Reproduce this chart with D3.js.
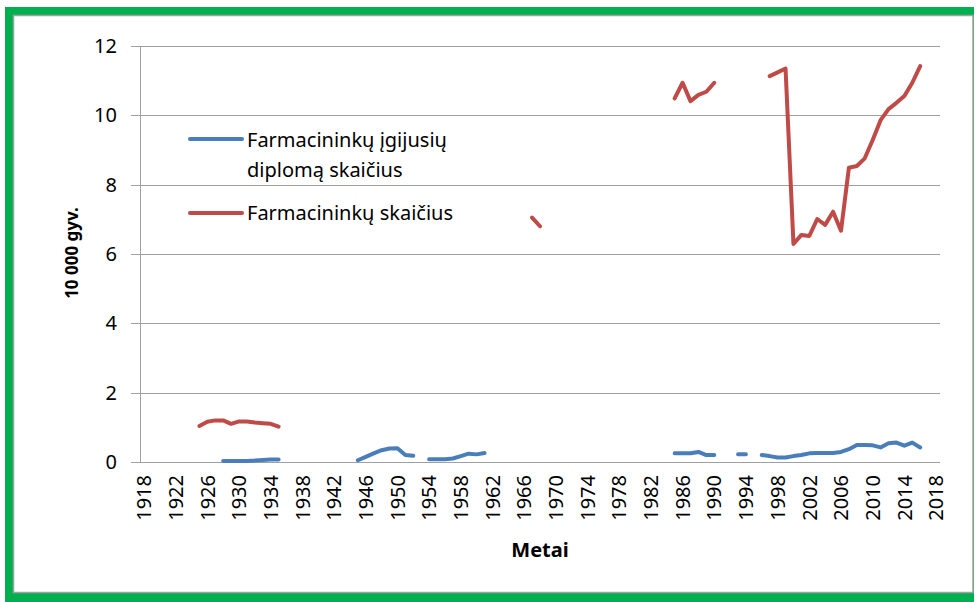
<!DOCTYPE html>
<html>
<head>
<meta charset="utf-8">
<script src="https://cdn.jsdelivr.net/npm/d3@7"></script>
<style>
html,body{margin:0;padding:0;background:#fff;}
svg{display:block;}
text{font-family:"Noto Sans","Open Sans",sans-serif;fill:#000;}
</style>
</head>
<body>
<svg id="chart" width="976" height="602"></svg>
<script>
// categories (every year on the axis)
const years = [1918,1919,1920,1921,1922,1923,1924,1925,1926,1927,1928,1929,1930,1931,1932,1933,1934,1935,1936,1937,1938,1939,1940,1941,1942,1943,1944,1945,1946,1947,1948,1949,1950,1951,1952,1953,1954,1955,1956,1957,1958,1959,1960,1961,1962,1963,1964,1965,1966,1967,1968,1969,1970,1971,1972,1973,1974,1975,1976,1977,1978,1979,1980,1981,1982,1983,1984,1985,1986,1987,1988,1989,1990,1991,1992,1993,1994,1995,1996,1997,1998,1999,2000,2001,2002,2003,2004,2005,2006,2007,2008,2009,2010,2011,2012,2013,2014,2015,2016,2017,2018];
const xTickLabels = [1918,1922,1926,1930,1934,1938,1942,1946,1950,1954,1958,1962,1966,1970,1974,1978,1982,1986,1990,1994,1998,2002,2006,2010,2014,2018];
const yTickLabels = [0,2,4,6,8,10,12];

// Farmacininkų įgijusių diplomą skaičius (null = gap)
const graduatesYears  = [1928,1929,1930,1931,1932,1933,1934,1935,1936,
  1945,1946,1947,1948,1949,1950,1951,1952,1953,
  1954,1955,1956,1957,1958,1959,1960,1961,1962,
  1985,1986,1987,1988,1989,1990,1991,
  1993,1994,1995,
  1996,1997,1998,1999,2000,2001,2002,2003,2004,2005,2006,2007,2008,2009,2010,2011,2012,2013,2014,2015,2016];
const graduatesValues = [0.03,0.03,0.03,0.03,0.04,0.06,0.07,0.07,null,
  0.05,0.15,0.25,0.34,0.39,0.40,0.20,0.18,null,
  0.08,0.08,0.08,0.10,0.17,0.24,0.22,0.26,null,
  0.25,0.25,0.25,0.29,0.20,0.20,null,
  0.22,0.22,null,
  0.20,0.17,0.13,0.13,0.17,0.20,0.25,0.26,0.26,0.26,0.29,0.37,0.49,0.49,0.48,0.42,0.54,0.56,0.47,0.56,0.42];

// Farmacininkų skaičius (null = gap)
const pharmacistsYears  = [1925,1926,1927,1928,1929,1930,1931,1932,1933,1934,1935,1936,
  1967,1968,1969,
  1985,1986,1987,1988,1989,1990,1991,
  1997,1998,1999,2000,2001,2002,2003,2004,2005,2006,2007,2008,2009,2010,2011,2012,2013,2014,2015,2016];
const pharmacistsValues = [1.04,1.16,1.20,1.20,1.10,1.17,1.17,1.14,1.12,1.10,1.02,null,
  7.05,6.80,null,
  10.49,10.94,10.41,10.59,10.68,10.94,null,
  11.13,11.24,11.35,6.29,6.55,6.52,7.01,6.84,7.22,6.67,8.49,8.54,8.76,9.29,9.86,10.18,10.36,10.56,10.94,11.42];

const seriesNames = ["Farmacininkų įgijusių", "diplomą skaičius", "Farmacininkų skaičius"];
const blue = "#4a7ebb", red = "#be4b48";

const svg = d3.select("#chart");

// frame
svg.append("rect").attr("x",5).attr("y",7).attr("width",969).attr("height",595).attr("fill","#00b050");
svg.append("rect").attr("x",13.5).attr("y",15.5).attr("width",959.5).attr("height",577).attr("fill","#fff")
  .attr("stroke","#a0a0a0").attr("stroke-width",1.5);

const plotL = 140, plotR = 940, plotT = 46, plotB = 462;
const x = d3.scalePoint().domain(years).range([plotL,plotR]).padding(0.5);
const y = d3.scaleLinear().domain([0,12]).range([plotB,plotT]);

// gridlines
svg.append("g").selectAll("line").data(yTickLabels).join("line")
  .attr("x1",plotL-9).attr("x2",plotR).attr("y1",d=>Math.round(y(d))+0.5).attr("y2",d=>Math.round(y(d))+0.5)
  .attr("stroke","#a0a0a0").attr("stroke-width",1);
// y axis line
svg.append("line").attr("x1",plotL+0.5).attr("x2",plotL+0.5).attr("y1",plotT).attr("y2",plotB)
  .attr("stroke","#a0a0a0").attr("stroke-width",1);

// y tick labels
svg.append("g").selectAll("text").data(yTickLabels).join("text")
  .attr("x",117).attr("y",d=>y(d)).attr("dy","0.35em").attr("text-anchor","end")
  .style("font-size","20px").text(d=>d);

// x tick labels
svg.append("g").selectAll("text").data(xTickLabels).join("text")
  .attr("transform",d=>`translate(${x(d)},475) rotate(-90)`)
  .attr("dy","0.36em").attr("text-anchor","end")
  .style("font-size","20px").text(d=>d);

// axis titles
svg.append("text").attr("transform","translate(72,253) rotate(-90)").attr("dy","0.35em")
  .attr("text-anchor","middle").style("font-size","17px").style("font-weight","bold").text("10 000 gyv.");
svg.append("text").attr("x",540).attr("y",557).attr("text-anchor","middle")
  .style("font-size","20px").style("font-weight","bold").text("Metai");

// lines
const line = d3.line().defined(d=>d[1]!==null).x(d=>x(d[0])).y(d=>y(d[1]));
const gData = d3.zip(graduatesYears, graduatesValues);
const pData = d3.zip(pharmacistsYears, pharmacistsValues);
svg.append("path").datum(gData).attr("d",line).attr("fill","none").attr("stroke",blue)
  .attr("stroke-width",4).attr("stroke-linejoin","round").attr("stroke-linecap","round");
svg.append("path").datum(pData).attr("d",line).attr("fill","none").attr("stroke",red)
  .attr("stroke-width",4).attr("stroke-linejoin","round").attr("stroke-linecap","round");

// legend
const lg = svg.append("g");
lg.append("line").attr("x1",190).attr("x2",242).attr("y1",139).attr("y2",139).attr("stroke",blue).attr("stroke-width",4).attr("stroke-linecap","round");
lg.append("text").attr("x",247).attr("y",147).style("font-size","20px").text(seriesNames[0]);
lg.append("text").attr("x",247).attr("y",177).style("font-size","20px").text(seriesNames[1]);
lg.append("line").attr("x1",190).attr("x2",242).attr("y1",213).attr("y2",213).attr("stroke",red).attr("stroke-width",4).attr("stroke-linecap","round");
lg.append("text").attr("x",247).attr("y",220).style("font-size","20px").text(seriesNames[2]);
</script>
</body>
</html>
